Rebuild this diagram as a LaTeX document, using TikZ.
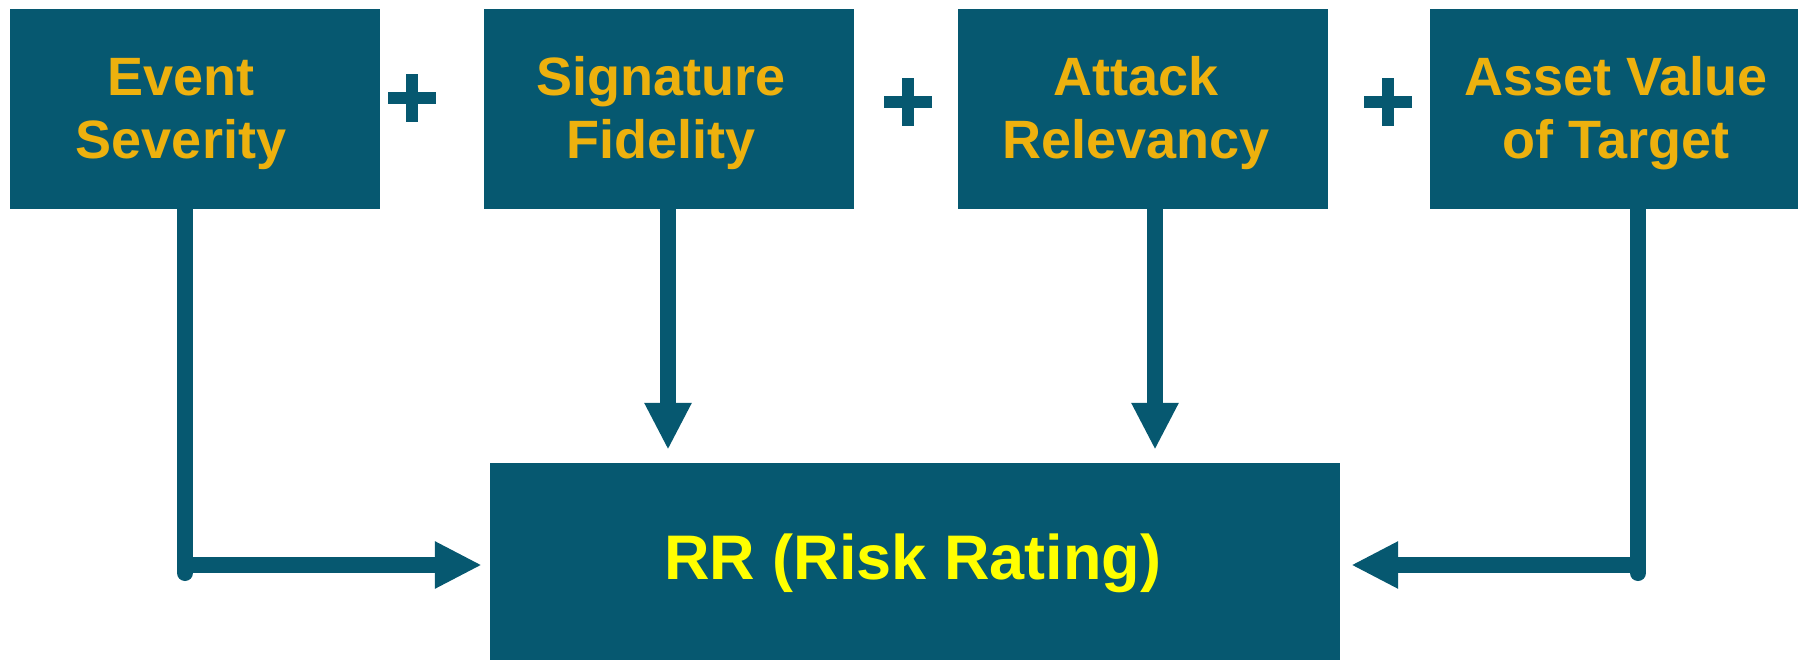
\documentclass[tikz,border=0pt]{standalone}
\usepackage{fontspec}
\setmainfont{Liberation Sans}
\usetikzlibrary{arrows.meta,calc}
\definecolor{boxteal}{HTML}{065870}
\definecolor{labelgold}{HTML}{EDB10E}
\definecolor{rryellow}{HTML}{FFFF00}

\begin{document}
\begin{tikzpicture}[x=1pt,y=-1pt,
  factor/.style={fill=boxteal, draw=none, inner sep=0pt,
    minimum width=370pt, minimum height=200pt},
  factortext/.style={text=labelgold, inner sep=0pt, anchor=base, align=center,
    font=\fontsize{54}{63}\selectfont\bfseries},
  resulttext/.style={text=rryellow, inner sep=0pt, anchor=base,
    font=\fontsize{63}{70}\selectfont\bfseries},
  conn/.style={draw=boxteal, line width=16pt},
  tipped/.style={-{Triangle[length=47pt,width=44pt]}},
  plussign/.pic={
    \fill[boxteal] (-24,-6) rectangle (24,6);
    \fill[boxteal] (-6,-24) rectangle (6,24);
  }
]
\useasboundingbox (0,0) rectangle (1798,660);

% the four factor boxes
\node[factor] (es) at (195,109) {};
\node[factor] (sf) at (669,109) {};
\node[factor] (ar) at (1143,109) {};
\node[factor] (av) at (1615,109) {};

% labels, placed by the baseline of their second line
\node[factortext] (es-t) at (181,159) {Event\\Severity};
\node[factortext] (sf-t) at (661,159) {Signature\\Fidelity};
\node[factortext] (ar-t) at (1136,159) {Attack\\Relevancy};
\node[factortext] (av-t) at (1616,159) {Asset Value\\of Target};

% plus signs between the factors
\pic at (412,98.5) {plussign};
\pic at (908,102.5) {plussign};
\pic at (1388,102.5) {plussign};

% result box
\node[factor, minimum width=850pt] (rr) at (915,563) {};
\node[resulttext] (rr-t) at (913,579) {RR (Risk Rating)};

% connectors
\coordinate (lcorner) at (185,573);
\coordinate (ljoint) at (185,565);
\coordinate (rcorner) at (1638,573);
\coordinate (rjoint) at (1638,565);

\draw[conn, line cap=round] ([xshift=-10pt]es.south) -- (lcorner);
\draw[conn, tipped, shorten >=8pt] (ljoint) -- (ljoint -| rr.west);

\draw[conn, tipped, shorten >=13pt] ([xshift=-1pt]sf.south) -- ([xshift=-1pt]sf.south |- rr.north);
\draw[conn, tipped, shorten >=13pt] ([xshift=12pt]ar.south) -- ([xshift=12pt]ar.south |- rr.north);

\draw[conn, line cap=round] ([xshift=23pt]av.south) -- (rcorner);
\draw[conn, tipped, shorten >=11pt] (rjoint) -- (rjoint -| rr.east);
\end{tikzpicture}
\end{document}
